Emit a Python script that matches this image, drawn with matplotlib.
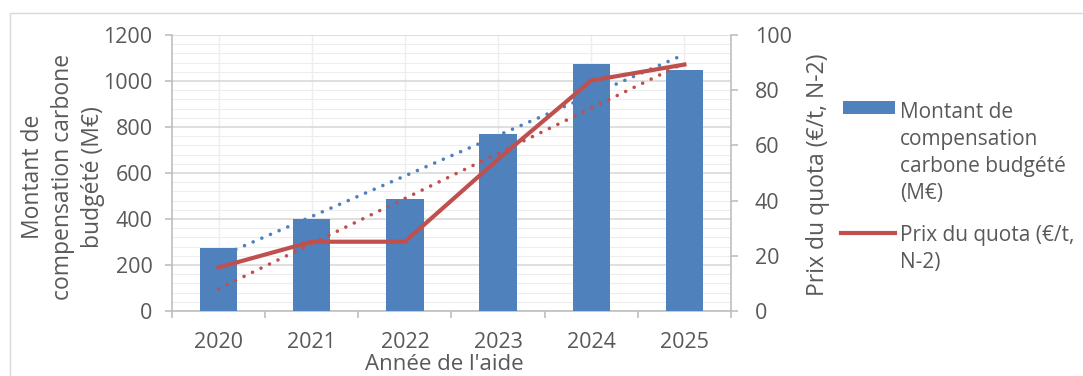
import matplotlib

matplotlib.use("Agg")
import matplotlib.pyplot as plt  # noqa: E402
import numpy as np  # noqa: E402
from matplotlib.lines import Line2D  # noqa: E402
from matplotlib.patches import Rectangle  # noqa: E402

years = ["2020", "2021", "2022", "2023", "2024", "2025"]
montant = [275, 398, 489, 771, 1072, 1047]  # M€
prix_quota = [15.8, 25.1, 25.1, 55.0, 83.5, 89.3]  # €/t, N-2

BLUE = "#4F81BD"
RED = "#C0504D"
TEXT = "#595959"
GRID = "#D9D9D9"
AXIS = "#BFBFBF"

W, H = 1083, 376
plt.rcParams["font.family"] = ["Open Sans", "DejaVu Sans"]


def px(x, y):
    """pixel position (from top-left) -> figure fraction"""
    return x / W, 1 - y / H


fig = plt.figure(figsize=(W / 100, H / 100), dpi=100)
fig.patches.append(Rectangle(px(10, H + 5), 1.1, (H - 13 + 5) / H,
                             transform=fig.transFigure, fill=False,
                             edgecolor=GRID, lw=1.0))
ax = fig.add_axes([172 / W, 65 / H, 559 / W, 276 / H])
ax2 = ax.twinx()

x = np.arange(len(years))
ax.bar(x, montant, width=0.4, color=BLUE, zorder=3)

# linear trendlines
fb = np.polyfit(x, montant, 1)
fr = np.polyfit(x, prix_quota, 1)
dots = (0, (0.01, 2.6))
ax.plot(x, np.polyval(fb, x), color=BLUE, lw=2.6, ls=dots,
        dash_capstyle="round", zorder=4)
ax2.plot(x, prix_quota, color=RED, lw=3, zorder=5)
ax2.plot(x, np.polyval(fr, x), color=RED, lw=2.6, ls=dots,
         dash_capstyle="round", zorder=4)

ax.set_xlim(-0.5, len(years) - 0.5)
ax.set_ylim(0, 1200)
ax2.set_ylim(0, 100)
ax.set_yticks(np.arange(0, 1201, 200))
ax.set_yticks(np.arange(0, 1201, 40), minor=True)
ax2.set_yticks(np.arange(0, 101, 20))
ax.set_xticks(x)
ax.set_xticklabels(years)
ax.set_xticks(np.arange(-0.5, len(years), 1), minor=True)

ax.grid(True, which="major", axis="y", color=GRID, lw=1.2, zorder=0)
ax.grid(True, which="minor", axis="y", color="#EDEDED", lw=0.8, zorder=0)
ax.grid(True, which="major", axis="x", color="#EDEDED", lw=1.0, zorder=0)
ax.set_axisbelow(True)

for a in (ax, ax2):
    a.spines["top"].set_visible(False)
    for s in ("left", "right", "bottom"):
        a.spines[s].set_color(AXIS)
        a.spines[s].set_linewidth(1.2)
ax.spines["right"].set_visible(False)
ax2.spines["left"].set_visible(False)
ax2.spines["bottom"].set_visible(False)

ax.tick_params(axis="y", which="major", colors=AXIS, labelcolor=TEXT,
               labelsize=15.5, length=5, width=1.2, pad=9)
ax.tick_params(axis="y", which="minor", length=0)
ax.tick_params(axis="x", which="major", length=0, labelcolor=TEXT,
               labelsize=15.5, pad=15)
ax.tick_params(axis="x", which="minor", length=5, width=1.2, colors=AXIS)
ax2.tick_params(axis="y", colors=AXIS, labelcolor=TEXT, labelsize=15.5,
                length=5, width=1.2, pad=12)

# axis titles
fig.text(*px(444, 364), "Année de l'aide", color=TEXT, fontsize=16,
         ha="center", va="center")
fig.text(*px(63, 177), "Montant de\ncompensation carbone\nbudgété (M€)",
         color=TEXT, fontsize=16.5, rotation=90, ha="center", va="center",
         linespacing=1.35, multialignment="center")
fig.text(*px(818, 175), "Prix du quota (€/t, N-2)", color=TEXT,
         fontsize=16.5, rotation=90, ha="center", va="center")

# legend, drawn in figure pixels so each key sits on its first text line
fig.patches.append(Rectangle(px(843, 114), 52 / W, 13 / H,
                             transform=fig.transFigure, facecolor=BLUE,
                             edgecolor="none"))
fig.add_artist(Line2D([841 / W, 895 / W], [1 - 233 / H] * 2, color=RED,
                      lw=3, transform=fig.transFigure))
fig.text(*px(900, 153), "Montant de\ncompensation\ncarbone budgété\n(M€)",
         color=TEXT, fontsize=15, ha="left", va="center", linespacing=1.38)
fig.text(*px(900, 249), "Prix du quota (€/t,\nN-2)", color=TEXT,
         fontsize=15, ha="left", va="center", linespacing=1.38)

fig.savefig("out.png", dpi=100)
